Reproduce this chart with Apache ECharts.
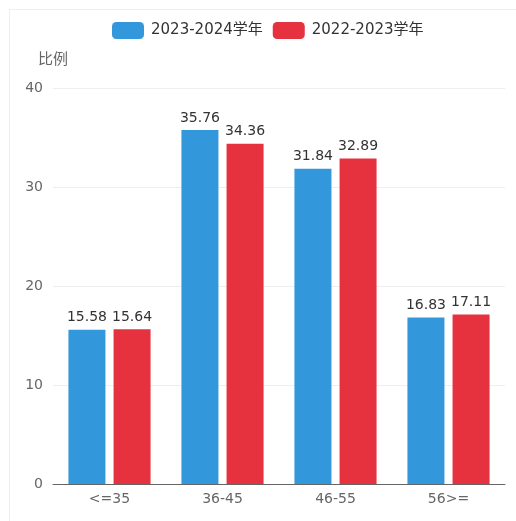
<!DOCTYPE html>
<html>
<head>
<meta charset="utf-8">
<script src="https://cdn.jsdelivr.net/npm/echarts@6/dist/echarts.min.js"></script>
<style>
html,body{margin:0;padding:0;background:#fff;}
#frame{position:absolute;left:9px;top:9px;width:520px;height:520px;border-top:1px solid #eeeeee;border-left:1px solid #eeeeee;}
#main{position:absolute;left:0;top:0;width:516px;height:521px;}
</style>
</head>
<body>
<div id="frame"></div>
<div id="main"></div>
<script>
const categories = ['<=35', '36-45', '46-55', '56>='];
const series2324 = [15.58, 35.76, 31.84, 16.83];
const series2223 = [15.64, 34.36, 32.89, 17.11];
const seriesNames = ['2023-2024学年', '2022-2023学年'];

const chart = echarts.init(document.getElementById('main'), null, {renderer: 'canvas'});
const font = '"DejaVu Sans", "Noto Sans CJK SC", sans-serif';
chart.setOption({
  backgroundColor: 'transparent',
  textStyle: {fontFamily: font},
  color: ['#3398DB', '#E5323E'],
  legend: {
    top: 17,
    left: 107,
    itemWidth: 32,
    itemHeight: 17,
    itemGap: 10,
    textStyle: {fontSize: 15, color: '#333', fontFamily: font, padding: [0, 0, 0, 2]},
    data: seriesNames
  },
  grid: {left: 53, right: 11, top: 88, bottom: 37},
  xAxis: {
    type: 'category',
    data: categories,
    axisLine: {lineStyle: {color: '#666'}},
    axisTick: {alignWithLabel: true, lineStyle: {color: '#666'}},
    axisLabel: {fontSize: 14, color: '#666', margin: 8, fontFamily: font}
  },
  yAxis: {
    type: 'value',
    name: '比例',
    min: 0, max: 40, interval: 10,
    nameTextStyle: {fontSize: 15, color: '#666', fontFamily: font, padding: [0, 0, 4, 0]},
    nameGap: 16,
    axisLine: {show: false},
    axisTick: {show: false},
    axisLabel: {fontSize: 14, color: '#666', margin: 10, fontFamily: font},
    splitLine: {lineStyle: {color: '#eee'}}
  },
  series: [
    {
      name: seriesNames[0], type: 'bar', data: series2324,
      barWidth: 37, barGap: '22%',
      label: {show: true, position: 'top', fontSize: 14, color: '#333', fontFamily: font}
    },
    {
      name: seriesNames[1], type: 'bar', data: series2223,
      barWidth: 37,
      label: {show: true, position: 'top', fontSize: 14, color: '#333', fontFamily: font}
    }
  ]
});
</script>
</body>
</html>
